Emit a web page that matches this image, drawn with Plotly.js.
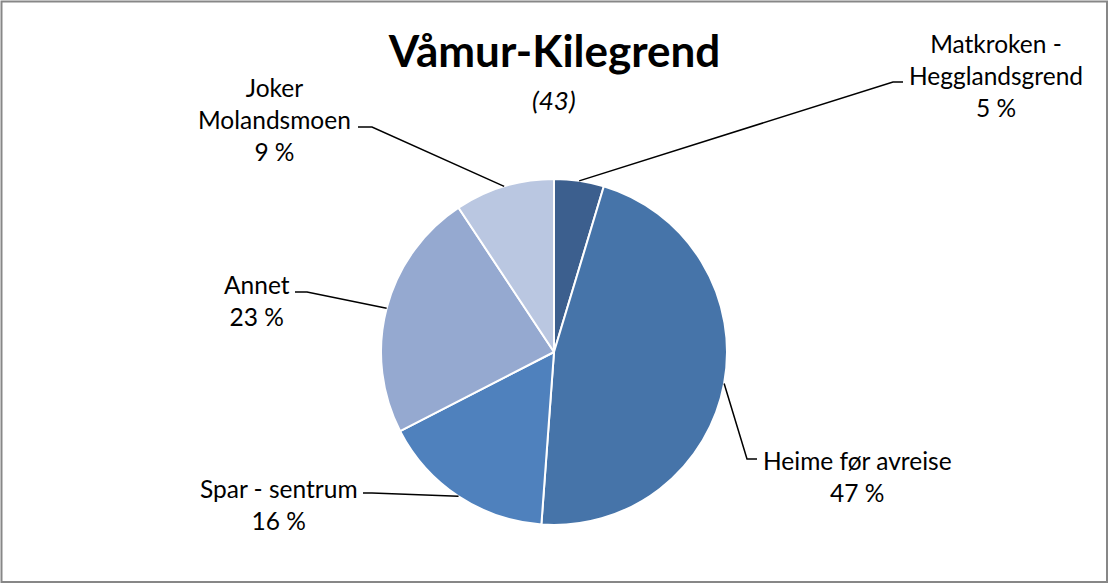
<!DOCTYPE html>
<html><head><meta charset="utf-8">
<script src="https://cdn.plot.ly/plotly-3.0.1.min.js"></script>
<style>html,body{margin:0;padding:0;background:#fff}</style>
</head><body><div id="chart" style="width:1109px;height:584px"></div>
<script>
// ---- data ----
const categories = ["Matkroken - Hegglandsgrend", "Heime før avreise", "Spar - sentrum", "Annet", "Joker Molandsmoen"];
const labelText = ["Matkroken -<br>Hegglandsgrend", "Heime før avreise", "Spar - sentrum", "Annet", "Joker<br>Molandsmoen"];
const counts = [2, 20, 7, 10, 4]; // answers out of 43
const chartTitle = "Våmur-Kilegrend";
const subTitle = "(43)";
const sliceColors = ["#3C5F8E", "#4674A9", "#4F81BD", "#95A9D0", "#BAC7E1"];

// ---- layout geometry (pixels) ----
const W = 1109, H = 584;
const CX = 554, CY = 352, R = 173;
const labelPos = [[996, 76], [858, 476], [279, 504], [257, 300], [274, 120]];
const elbowPos = [[[893, 82], [903, 82]], [[747, 459], [757, 459]], [[372, 493], [363, 493]], [[307, 292], [295, 292]], [[372, 127], [358, 127]]];

const px = x => x / W, py = y => 1 - y / H;
const total = counts.reduce((a, b) => a + b, 0);
const pctText = counts.map(c => Math.round(100 * c / total) + " %");
const FONT = "Lato, 'Open Sans', sans-serif";

const annotations = [];
const shapes = [{type: "rect", xref: "paper", yref: "paper", x0: px(1.5), x1: px(1107), y0: py(582), y1: py(1.5), line: {color: "#878787", width: 2}}];
let cum = 0;
counts.forEach((c, i) => {
  const mid = (cum + c / 2) / total * 2 * Math.PI;
  cum += c;
  const ax = CX + R * Math.sin(mid), ay = CY - R * Math.cos(mid);
  const [e1, e2] = elbowPos[i];
  shapes.push({type: "path", xref: "paper", yref: "paper",
    path: `M ${px(ax)},${py(ay)} L ${px(e1[0])},${py(e1[1])} L ${px(e2[0])},${py(e2[1])}`,
    line: {color: "#000", width: 1.5}});
  annotations.push({xref: "paper", yref: "paper", x: px(labelPos[i][0]), y: py(labelPos[i][1]),
    xanchor: "center", yanchor: "middle", align: "center", showarrow: false,
    text: labelText[i] + "<br>" + pctText[i], font: {family: FONT, size: 24.5, color: "#000"}});
});
annotations.push({xref: "paper", yref: "paper", x: px(554), y: py(100), xanchor: "center", yanchor: "middle",
  showarrow: false, text: "<i>" + subTitle + "</i>", font: {family: FONT, size: 26, color: "#000"}});

const data = [{
  type: "pie", labels: categories, values: counts, sort: false, direction: "clockwise", rotation: 0,
  textinfo: "none", hoverinfo: "label+percent",
  marker: {colors: sliceColors, line: {color: "#fff", width: 2}},
  domain: {x: [px(CX - R), px(CX + R)], y: [py(CY + R), py(CY - R)]},
  showlegend: false
}];

const layout = {
  width: W, height: H, margin: {l: 0, r: 0, t: 0, b: 0},
  paper_bgcolor: "#fff", plot_bgcolor: "#fff",
  title: {text: "<b>" + chartTitle + "</b>", x: 0.5, xanchor: "center", y: 1 - 52 / H, yanchor: "middle", yref: "container",
    font: {family: FONT, size: 44, color: "#000"}},
  annotations, shapes, showlegend: false
};
Plotly.newPlot("chart", data, layout, {displayModeBar: false, staticPlot: true});
</script></body></html>
